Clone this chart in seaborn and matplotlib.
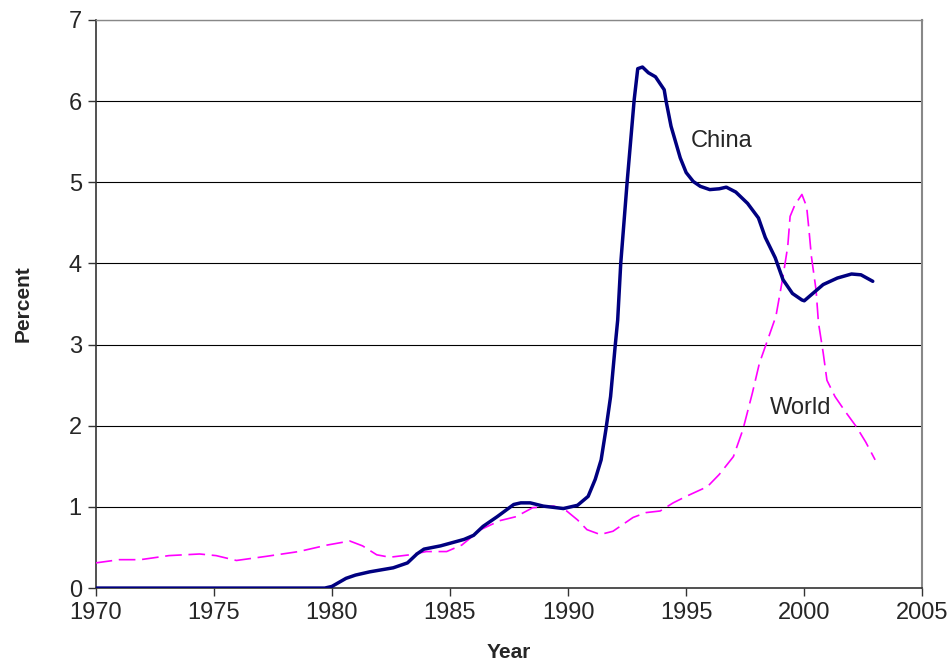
import matplotlib
matplotlib.use("Agg")
import matplotlib.pyplot as plt
import numpy as np
import seaborn as sns

# values
china_years = [1970, 1979.7, 1980.0, 1980.6, 1981.0, 1981.6, 1982.6, 1983.2, 1983.6,
               1983.9, 1984.6, 1985.6, 1986.0, 1986.4, 1987.0, 1987.7, 1988.0, 1988.4,
               1988.95, 1989.8, 1990.4, 1990.85, 1991.15, 1991.4, 1991.6, 1991.8, 1992.0,
               1992.1, 1992.23, 1992.5, 1992.8, 1992.95, 1993.15, 1993.4, 1993.7, 1994.07,
               1994.15, 1994.36, 1994.75, 1995.0, 1995.3, 1995.6, 1996.0, 1996.4, 1996.7,
               1997.1, 1997.6, 1998.06, 1998.35, 1998.77, 1999.1, 1999.5, 1999.9, 2000.0,
               2000.4, 2000.8, 2001.4, 2002.0, 2002.4, 2002.9]
china_pct = [0, 0, 0.02, 0.12, 0.16, 0.20, 0.25, 0.31, 0.42,
             0.48, 0.52, 0.60, 0.65, 0.76, 0.88, 1.03, 1.05, 1.05,
             1.01, 0.98, 1.02, 1.13, 1.34, 1.58, 1.95, 2.36, 3.0,
             3.3, 4.0, 5.0, 6.02, 6.40, 6.42, 6.35, 6.30, 6.14,
             6.00, 5.69, 5.30, 5.12, 5.01, 4.95, 4.91, 4.92, 4.94,
             4.88, 4.74, 4.56, 4.32, 4.07, 3.80, 3.63, 3.55, 3.54,
             3.64, 3.74, 3.82, 3.87, 3.86, 3.78]

world_years = [1970.0, 1971.0, 1971.9, 1973.1, 1974.4, 1975.1, 1975.96, 1977.2, 1978.6,
               1979.8, 1980.76, 1981.3, 1981.9, 1982.45, 1983.3, 1984.0, 1984.86, 1985.5,
               1986.3, 1987.1, 1987.8, 1988.5, 1989.4, 1989.94, 1990.4, 1990.8, 1991.36,
               1991.9, 1992.75, 1993.3, 1993.9, 1994.45, 1995.0, 1995.9, 1996.4, 1997.0,
               1997.4, 1997.8, 1998.1, 1998.5, 1998.8, 1999.1, 1999.3, 1999.4, 1999.6,
               1999.9, 2000.1, 2000.2, 2000.3, 2000.5, 2000.6, 2000.8, 2000.96, 2001.3,
               2001.7, 2002.2, 2002.6, 2003.0]
world_pct = [0.31, 0.35, 0.35, 0.40, 0.42, 0.40, 0.34, 0.39, 0.45,
             0.53, 0.58, 0.52, 0.41, 0.38, 0.41, 0.45, 0.45, 0.53,
             0.72, 0.83, 0.88, 0.99, 1.01, 0.95, 0.84, 0.72, 0.66,
             0.70, 0.87, 0.93, 0.95, 1.05, 1.13, 1.25, 1.40, 1.62,
             1.95, 2.40, 2.77, 3.10, 3.35, 3.84, 4.21, 4.58, 4.72,
             4.85, 4.70, 4.41, 4.09, 3.67, 3.27, 2.90, 2.56, 2.36,
             2.19, 1.99, 1.80, 1.58]

x_ticks = [1970, 1975, 1980, 1985, 1990, 1995, 2000, 2005]
y_ticks = [0, 1, 2, 3, 4, 5, 6, 7]

sns.set_theme(style="white")
plt.rcParams["font.family"] = ["Liberation Sans", "DejaVu Sans"]

fig, ax = plt.subplots(figsize=(9.47, 6.66), dpi=100)
fig.subplots_adjust(left=0.101, right=0.974, top=0.970, bottom=0.117)

# gridlines first so the data sits on top
for y in y_ticks[1:]:
    ax.axhline(y, color="black" if y < 7 else "#888888", linewidth=0.8, zorder=1)

sns.lineplot(x=world_years, y=world_pct, color="#FF00FF", linewidth=1.2,
             linestyle=(0, (10, 4)), ax=ax, zorder=3)
sns.lineplot(x=china_years, y=china_pct, color="#000080", linewidth=2.5,
             ax=ax, zorder=4)

ax.text(1995.2, 5.51, "China", fontsize=17, va="center", ha="left")
ax.text(1998.55, 2.22, "World", fontsize=17, va="center", ha="left")

ax.set_xlim(1970, 2005)
ax.set_ylim(0, 7)
ax.set_xticks(x_ticks)
ax.set_yticks(y_ticks)
ax.tick_params(axis="both", which="major", labelsize=17, length=6, width=1,
               direction="out", color="#333333", left=True, bottom=True, pad=4)

ax.set_xlabel("Year", fontsize=15, fontweight="bold", labelpad=14)
ax.set_ylabel("Percent", fontsize=15, fontweight="bold", labelpad=26)

for side in ["left", "bottom"]:
    ax.spines[side].set_color("#333333")
    ax.spines[side].set_linewidth(1.2)
ax.spines["right"].set_color("#888888")
ax.spines["right"].set_linewidth(1.5)
ax.spines["top"].set_color("#888888")
ax.spines["top"].set_linewidth(1.0)

plt.savefig("out.png", dpi=100)
